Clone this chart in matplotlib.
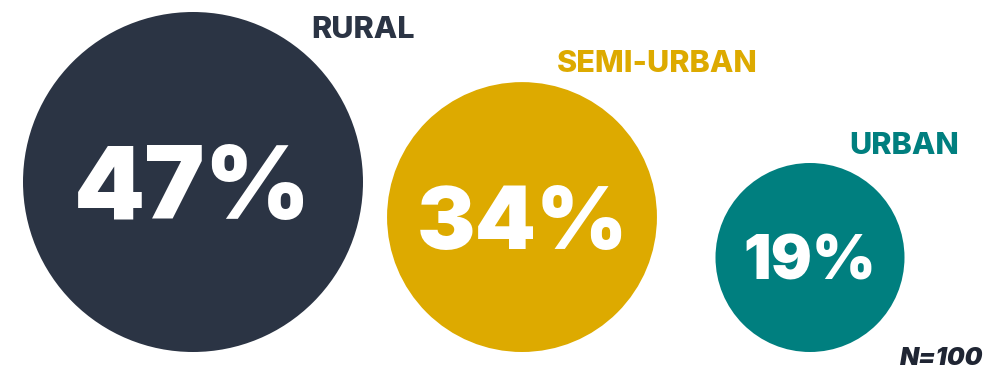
import matplotlib
matplotlib.use("Agg")
import matplotlib.pyplot as plt
from matplotlib.patches import Circle
import numpy as np

categories = ["RURAL", "SEMI-URBAN", "URBAN"]
values = [47, 34, 19]
sample_note = "N=100"

colors = ["#2B3444", "#DDAA00", "#007F7F"]

# layout in pixel space (figure is 988 x 370)
W, H = 988, 370
BASELINE = 352
center_x = [193, 522, 810]
label_y = [38, 72, 154]
value_font = [73, 63, 44]

# radius scale: linear over the value extent
r_min, r_max = 94.5, 170
v_min, v_max = min(values), max(values)


def radius(v):
    return r_min + (v - v_min) / (v_max - v_min) * (r_max - r_min)


plt.rcParams['font.family'] = ['Inter', 'DejaVu Sans']

fig = plt.figure(figsize=(W / 100, H / 100), dpi=100)
ax = fig.add_axes([0, 0, 1, 1])
ax.set_xlim(0, W)
ax.set_ylim(H, 0)
ax.set_aspect('equal')
ax.axis('off')

for cat, v, col, cx, ly, fs in zip(categories, values, colors, center_x, label_y, value_font):
    r = radius(v)
    cy = BASELINE - r
    ax.add_patch(Circle((cx, cy), r, color=col, lw=0))
    ax.text(cx, cy, f"{v}%", color="white", fontsize=fs, fontweight=900,
            ha="center", va="center_baseline")
    ax.text(cx + r, ly, cat, color=col, fontsize=22, fontweight=800,
            ha="center", va="baseline")

ax.text(983, 365, sample_note, color="#1F2533", fontsize=18, fontweight=900,
        style="italic", ha="right", va="baseline")

fig.savefig("out.png", dpi=100)
